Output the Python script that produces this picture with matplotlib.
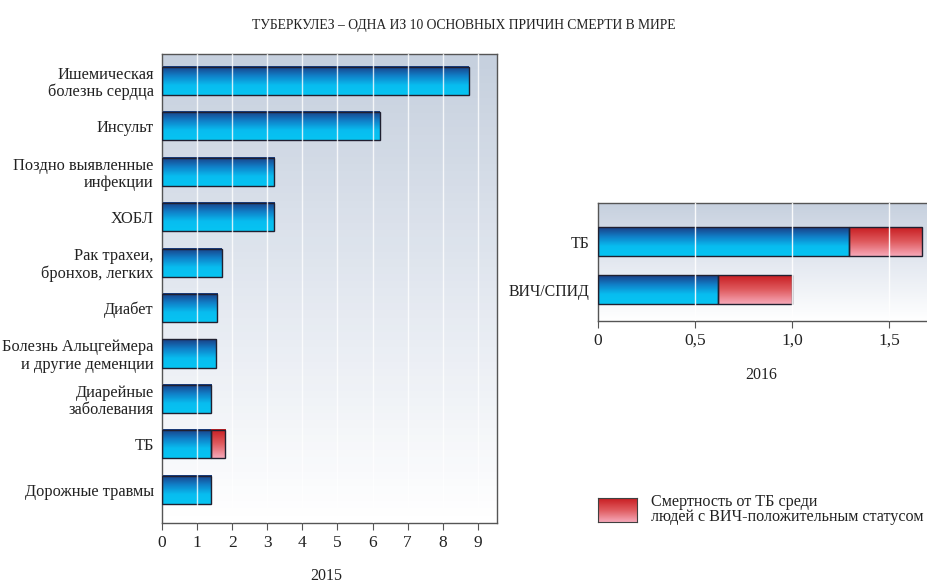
import numpy as np
import matplotlib.pyplot as plt
from matplotlib.colors import LinearSegmentedColormap

plt.rcParams['font.family'] = ['Liberation Serif', 'DejaVu Serif']

# Data
causes = ["Ишемическая\nболезнь сердца", "Инсульт", "Поздно выявленные\nинфекции", "ХОБЛ",
          "Рак трахеи,\nбронхов, легких", "Диабет", "Болезнь Альцгеймера\nи другие деменции",
          "Диарейные\nзаболевания", "ТБ", "Дорожные травмы"]
deaths_2015 = [8.75, 6.2, 3.2, 3.2, 1.7, 1.58, 1.55, 1.4, 1.4, 1.4]
hiv_tb_2015 = [0, 0, 0, 0, 0, 0, 0, 0, 0.4, 0]

cats_2016 = ["ТБ", "ВИЧ/СПИД"]
main_2016 = [1.29, 0.62]
hiv_tb_2016 = [0.38, 0.38]

blue_cm = LinearSegmentedColormap.from_list("b", ["#1a3f86", "#1080c8", "#08bdf0", "#06c4f2"])
red_cm = LinearSegmentedColormap.from_list("r", ["#c81e22", "#df5a5e", "#f6a8b8"])
bg_cm = LinearSegmentedColormap.from_list("bg", ["#c6d0de", "#e3e8f0", "#ffffff"])
grad = np.linspace(0, 1, 64).reshape(-1, 1)


def bg(ax):
    ax.imshow(grad, cmap=bg_cm, aspect='auto', extent=[0, 1, 0, 1],
              transform=ax.transAxes, zorder=0, origin='upper')


def grad_bars(ax, y, widths, lefts, cmap, h):
    bars = ax.barh(y, widths, left=lefts, height=h, facecolor='none',
                   edgecolor='#202030', linewidth=1.0, zorder=3)
    for b in bars:
        if b.get_width() <= 0:
            b.set_visible(False)
            continue
        x0, y0 = b.get_x(), b.get_y()
        ax.imshow(grad, cmap=cmap, aspect='auto', zorder=2, origin='upper',
                  extent=[x0, x0 + b.get_width(), y0 + b.get_height(), y0])


def style(ax, ysize=11.8):
    for s in ax.spines.values():
        s.set_color('#555555')
        s.set_linewidth(1.0)
    ax.tick_params(axis='y', length=0, labelsize=ysize, pad=6, labelcolor='#222222')
    ax.tick_params(axis='x', length=5, color='#555555', labelsize=12.5, labelcolor='#222222')


fig = plt.figure(figsize=(9.28, 5.84), dpi=100)

# 2015 panel
ax1 = fig.add_axes([0.1746, 0.1045, 0.361, 0.803])
ypos = np.arange(len(causes))
bg(ax1)
grad_bars(ax1, ypos, deaths_2015, 0, blue_cm, 0.62)
grad_bars(ax1, ypos, hiv_tb_2015, deaths_2015, red_cm, 0.62)
for v in range(1, 10):
    ax1.axvline(v, color='white', lw=1.0, alpha=0.8, zorder=4)
ax1.set_xlim(0, 9.55)
ax1.set_ylim(len(causes) - 1 + 0.73, -0.59)
ax1.set_yticks(ypos)
ax1.set_yticklabels(causes, linespacing=1.1)
ax1.set_xticks(range(10))
style(ax1)
fig.text(0.352, 0.0137, "2015", ha='center', va='center', fontsize=11.5, color='#222222')

# 2016 panel
ax2 = fig.add_axes([0.6444, 0.4503, 0.36, 0.2021])
y2 = np.arange(len(cats_2016))
bg(ax2)
grad_bars(ax2, y2, main_2016, 0, blue_cm, 0.6)
grad_bars(ax2, y2, hiv_tb_2016, main_2016, red_cm, 0.6)
for v in [0.5, 1.0, 1.5]:
    ax2.axvline(v, color='white', lw=1.0, alpha=0.9, zorder=4)
ax2.set_xlim(0, 1.72)
ax2.set_ylim(1.65, -0.81)
ax2.set_yticks(y2)
ax2.set_yticklabels(cats_2016)
ax2.set_xticks([0, 0.5, 1.0, 1.5])
ax2.set_xticklabels(["0", "0,5", "1,0", "1,5"])
style(ax2, ysize=11.4)
fig.text(0.82, 0.358, "2016", ha='center', va='center', fontsize=11.5, color='#222222')

# legend
lax = fig.add_axes([0.6444, 0.106, 0.042, 0.041])
lax.imshow(grad, cmap=red_cm, aspect='auto', extent=[0, 1, 0, 1], origin='upper')
lax.set_xlim(0, 1)
lax.set_ylim(0, 1)
lax.set_xticks([])
lax.set_yticks([])
for s in lax.spines.values():
    s.set_color('#404040')
fig.text(0.701, 0.128, "Смертность от ТБ среди\nлюдей с ВИЧ-положительным статусом",
         ha='left', va='center', fontsize=11.6, linespacing=0.92, color='#222222')

fig.text(0.5, 0.956, "ТУБЕРКУЛЕЗ – ОДНА ИЗ 10 ОСНОВНЫХ ПРИЧИН СМЕРТИ В МИРЕ",
         ha='center', va='center', fontsize=9.8, color='#222222')

fig.savefig("out.png", dpi=100)
